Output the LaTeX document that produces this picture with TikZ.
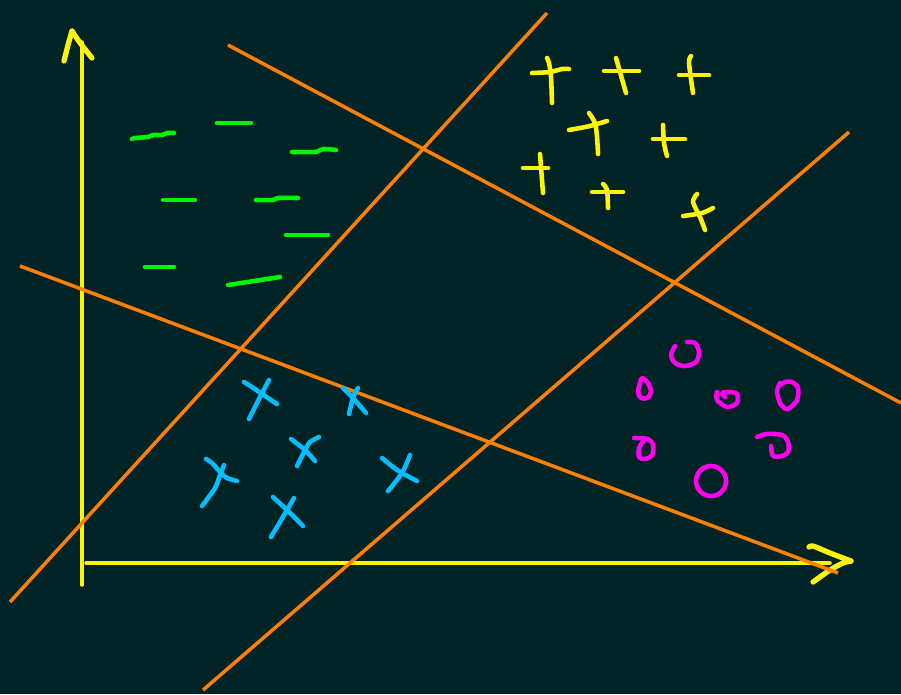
\documentclass[tikz,border=0pt]{standalone}
\usepackage{tikz}
\definecolor{boardbg}{RGB}{0,35,37}
\definecolor{boundorange}{RGB}{255,128,0}
\definecolor{axisyellow}{RGB}{255,245,0}
\definecolor{neggreen}{RGB}{0,245,0}
\definecolor{crosscyan}{RGB}{0,190,255}
\definecolor{ringmagenta}{RGB}{255,0,240}

\begin{document}
\begin{tikzpicture}[
    x=0.02cm, y=-0.02cm,
    axisline/.style={draw=axisyellow, line width=2pt, line cap=round, line join=round},
    axishead/.style={axisline, line width=3pt},
    boundary/.style={draw=boundorange, line width=2pt},
    negmark/.style={draw=neggreen, line width=2.6pt, line cap=round, line join=round},
    posmark/.style={draw=axisyellow, line width=2.6pt, line cap=round, line join=round},
    crossmark/.style={draw=crosscyan, line width=2.6pt, line cap=round, line join=round},
    ringmark/.style={draw=ringmagenta, line width=2.6pt, line cap=round, line join=round}
]

\fill[boardbg] (0,0) rectangle (901,694);
\useasboundingbox (0,0) rectangle (901,694);

\coordinate (ytop) at (82,42);
\coordinate (ybot) at (82,585);
\coordinate (xleft) at (86,563);
\coordinate (xright) at (830,563);

\draw[axisline] (ybot) -- (ytop);
\draw[axishead] plot[smooth] coordinates {(64,61) (68,45) (72,31)};
\draw[axishead] plot[smooth] coordinates {(72,31) (78,40) (84,48) (92,58)};
\draw[axisline] (xleft) -- (xright);
\draw[axishead] plot[smooth] coordinates {(809,547) (813,546) (830,553) (851,561)};
\draw[axishead] plot[smooth] coordinates {(851,561) (843,563) (830,570) (813,582)};

\draw[boundary] (10,602) -- (547,13);
\draw[boundary] (228,45) -- (901,403);
\draw[boundary] (20,266) -- (838,573);
\draw[boundary] (203,690) -- (849,132);

\draw[negmark] plot[smooth] coordinates {(132,139) (135,138) (148,137) (153,135) (162,135) (167,133) (174,133)};
\draw[negmark] (217,123) -- (251,123);
\draw[negmark] plot[smooth] coordinates {(292,152) (315,152) (323,149) (336,150)};
\draw[negmark] (163,200) -- (195,200);
\draw[negmark] plot[smooth] coordinates {(256,200) (273,200) (278,198) (298,198)};
\draw[negmark] (286,235) -- (328,235);
\draw[negmark] (145,267) -- (174,267);
\draw[negmark] (228,285) -- (280,277);

\draw[posmark] plot[smooth] coordinates {(532,73) (550,72) (562,69) (569,69)};
\draw[posmark] plot[smooth] coordinates {(547,58) (549,63) (551,77) (552,103)};
\draw[posmark] (604,71) -- (639,71);
\draw[posmark] (616,58) -- (626,93);
\draw[posmark] (679,75) -- (709,75);
\draw[posmark] plot[smooth] coordinates {(691,56) (689,63) (693,93)};
\draw[posmark] plot[smooth] coordinates {(569,130) (590,126) (607,121)};
\draw[posmark] plot[smooth] coordinates {(589,113) (595,123) (597,137) (598,154)};
\draw[posmark] (653,139) -- (685,139);
\draw[posmark] plot[smooth] coordinates {(663,125) (664,143) (667,156)};
\draw[posmark] (523,168) -- (548,168);
\draw[posmark] (540,154) -- (543,193);
\draw[posmark] (592,192) -- (623,192);
\draw[posmark] plot[smooth] coordinates {(603,184) (607,190) (608,208)};
\draw[posmark] plot[smooth] coordinates {(683,216) (702,213) (713,208)};
\draw[posmark] plot[smooth] coordinates {(697,194) (693,202) (700,217) (705,230)};

\draw[crossmark] plot[smooth] coordinates {(244,382) (252,387) (262,394) (268,398) (277,404)};
\draw[crossmark] plot[smooth] coordinates {(269,380) (260,397) (249,419)};
\draw[crossmark] plot[smooth] coordinates {(343,388) (353,398) (366,413)};
\draw[crossmark] plot[smooth] coordinates {(358,388) (353,398) (349,414)};
\draw[crossmark] plot[smooth] coordinates {(291,439) (305,450) (315,461)};
\draw[crossmark] plot[smooth] coordinates {(319,437) (310,442) (305,450) (297,466)};
\draw[crossmark] plot[smooth] coordinates {(206,459) (212,463) (221,473) (227,478) (237,481)};
\draw[crossmark] plot[smooth] coordinates {(224,465) (220,475) (215,488) (202,506)};
\draw[crossmark] plot[smooth] coordinates {(273,497) (287,510) (303,526)};
\draw[crossmark] plot[smooth] coordinates {(294,498) (287,510) (271,537)};
\draw[crossmark] plot[smooth] coordinates {(382,458) (393,467) (402,473) (417,481)};
\draw[crossmark] plot[smooth] coordinates {(410,455) (402,473) (388,491)};

\draw[ringmark] plot[smooth] coordinates {(687,342) (695,343) (699,352) (696,362) (685,366) (675,363) (671,355) (675,346)};
\draw[ringmark] plot[smooth cycle] coordinates {(642,378) (648,383) (651,392) (647,398) (641,398) (638,392) (640,383)};
\draw[ringmark] plot[smooth] coordinates {(717,392) (717,400) (727,407) (737,403) (737,394) (730,392) (722,393) (725,397)};
\draw[ringmark] plot[smooth] coordinates {(780,383) (777,392) (781,405) (788,409) (797,400) (798,388) (792,382) (785,382) (780,385)};
\draw[ringmark] plot[smooth] coordinates {(634,438) (648,439) (653,445) (652,455) (645,459) (639,457) (639,448) (643,442)};
\draw[ringmark] plot[smooth] coordinates {(757,437) (767,434) (782,435) (788,442) (788,452) (782,456) (773,456) (771,446)};
\draw[ringmark] (711,481) circle[radius=15];

\end{tikzpicture}
\end{document}
